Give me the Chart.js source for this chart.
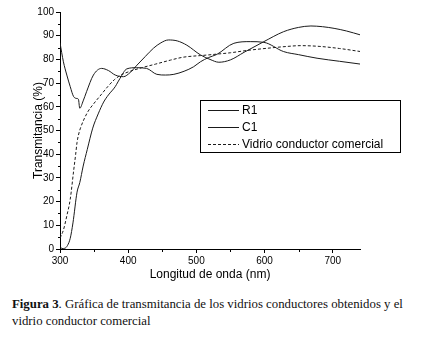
<!DOCTYPE html>
<html>
<head>
<meta charset="utf-8">
<script src="https://cdn.jsdelivr.net/npm/chart.js@4.4.1/dist/chart.umd.min.js"></script>
<style>
  body { margin: 0; background: #fff; width: 430px; height: 338px; overflow: hidden; }
  #wrap { position: absolute; left: 0; top: 0; width: 430px; height: 290px; }
  #caption {
    position: absolute; left: 12px; top: 296px;
    font-family: "Liberation Serif", "Times New Roman", serif;
    font-size: 12.8px; line-height: 17px; color: #111;
  }
</style>
</head>
<body>
<div id="wrap"><canvas id="chart" width="430" height="290"></canvas></div>
<div id="caption"><b>Figura 3</b>. Gráfica de transmitancia de los vidrios conductores obtenidos y el<br>vidrio conductor comercial</div>
<script>
// longitud de onda (nm) / transmitancia (%)
const r1Wave = [300, 305, 310, 315, 320, 325, 327, 329, 334, 339, 349, 361, 371, 381, 393, 403, 413, 425, 437, 448, 459, 472, 486, 506, 520, 533, 550, 570, 599, 628, 650, 668, 685, 702, 720, 741];
const r1Trans = [87, 79, 73.4, 68.5, 64.3, 63.5, 63.2, 59.4, 62.5, 66.4, 73.4, 76.2, 75.3, 73.4, 72.7, 74.5, 77.6, 81.2, 84.7, 87, 88.2, 87.8, 86, 81.9, 80, 78.8, 79.8, 83, 87.5, 91.7, 93.5, 94.1, 93.8, 93.1, 92, 90.3];

const c1Wave = [300, 303, 307, 311, 315, 319, 325, 329, 334, 340, 348, 356, 364, 371, 381, 385, 388, 398, 412, 427, 442, 455, 467, 482, 496, 506, 518, 530, 555, 579, 599, 628, 650, 677, 710, 741];
const c1Trans = [1, 0.2, 0.3, 1.5, 4.5, 11, 24, 28, 35, 42, 51, 57, 62, 65, 68.5, 70.5, 72, 76, 76.5, 76.2, 73.7, 73.4, 73.7, 75, 76.9, 79, 80.8, 82.1, 86.8, 87.5, 87.2, 83.3, 82, 80.5, 79.2, 78];

const vidrioWave = [300, 305, 310, 315, 320, 323, 325, 327, 330, 340, 350, 360, 370, 380, 390, 400, 420, 440, 462, 480, 496, 506, 529, 550, 575, 604, 630, 653, 680, 710, 741];
const vidrioTrans = [4.6, 8, 14, 21, 33, 40, 45, 48, 51, 57.5, 61.5, 65, 68.5, 71.5, 73.5, 74.7, 76.5, 78, 79.7, 80.9, 81.4, 81.6, 82.2, 82.8, 83.8, 84.7, 85.4, 85.8, 85.5, 84.6, 83.3];

const seriesNames = ['R1', 'C1', 'Vidrio conductor comercial'];
const yTicks = [0, 10, 20, 30, 40, 50, 60, 70, 80, 90, 100];
const xTicks = [300, 400, 500, 600, 700];

function toPoints(xs, ys) {
  return xs.map((x, i) => ({ x: x, y: ys[i] }));
}

const lineColor = '#1a1a1a';

// marcas menores y leyenda con recuadro
const extrasPlugin = {
  id: 'extras',
  afterDraw(chart) {
    const ctx = chart.ctx;
    const xs = chart.scales.x, ys = chart.scales.y;
    const area = chart.chartArea;
    ctx.save();
    ctx.strokeStyle = '#000';
    ctx.lineWidth = 1;
    ctx.beginPath();
    for (let v = 5; v < 100; v += 10) {
      const py = Math.round(ys.getPixelForValue(v)) + 0.5;
      ctx.moveTo(area.left - 2, py);
      ctx.lineTo(area.left, py);
    }
    for (let v = 350; v < 740; v += 100) {
      const px = Math.round(xs.getPixelForValue(v)) + 0.5;
      ctx.moveTo(px, area.bottom);
      ctx.lineTo(px, area.bottom + 3);
    }
    ctx.stroke();

    // leyenda
    const bx = 200.5, by = 100.5, bw = 200, bh = 52;
    ctx.fillStyle = '#fff';
    ctx.fillRect(bx, by, bw, bh);
    ctx.strokeRect(bx, by, bw, bh);
    ctx.font = '12px "Liberation Sans", Arial, sans-serif';
    ctx.textBaseline = 'middle';
    chart.data.datasets.forEach((ds, i) => {
      const ly = 110.5 + i * 17;
      ctx.strokeStyle = ds.borderColor;
      ctx.setLineDash(ds.borderDash || []);
      ctx.beginPath();
      ctx.moveTo(208, ly);
      ctx.lineTo(239, ly);
      ctx.stroke();
      ctx.setLineDash([]);
      ctx.fillStyle = '#000';
      ctx.fillText(ds.label, 242, ly + 0.5);
    });
    ctx.restore();
  }
};

new Chart(document.getElementById('chart'), {
  type: 'line',
  data: {
    datasets: [
      { label: seriesNames[0], data: toPoints(r1Wave, r1Trans), borderColor: lineColor, borderWidth: 1, pointRadius: 0, cubicInterpolationMode: 'monotone' },
      { label: seriesNames[1], data: toPoints(c1Wave, c1Trans), borderColor: lineColor, borderWidth: 1, pointRadius: 0, cubicInterpolationMode: 'monotone' },
      { label: seriesNames[2], data: toPoints(vidrioWave, vidrioTrans), borderColor: lineColor, borderWidth: 1, borderDash: [3, 2], pointRadius: 0, cubicInterpolationMode: 'monotone' }
    ]
  },
  options: {
    responsive: false,
    animation: false,
    layout: { padding: { left: 0, right: 70, top: 12, bottom: 0 } },
    plugins: { legend: { display: false }, tooltip: { enabled: false } },
    scales: {
      x: {
        type: 'linear', min: 300, max: 740,
        afterBuildTicks: s => { s.ticks = xTicks.map(v => ({ value: v })); },
        afterFit: s => { s.height = 41; },
        border: { display: true, color: '#000', width: 1 },
        grid: { drawOnChartArea: false, drawTicks: true, tickLength: 4, color: '#000' },
        ticks: { color: '#000', padding: 2, maxRotation: 0, font: { family: '"Liberation Sans", Arial, sans-serif', size: 10 } },
        title: { display: true, text: 'Longitud de onda (nm)', color: '#000', padding: { top: 0, bottom: 8 }, font: { family: '"Liberation Sans", Arial, sans-serif', size: 12 } }
      },
      y: {
        type: 'linear', min: 0, max: 100,
        afterBuildTicks: s => { s.ticks = yTicks.map(v => ({ value: v })); },
        afterFit: s => { s.width = 60; },
        border: { display: true, color: '#000', width: 1 },
        grid: { drawOnChartArea: false, drawTicks: true, tickLength: 4, color: '#000' },
        ticks: { color: '#000', padding: 2, font: { family: '"Liberation Sans", Arial, sans-serif', size: 10 } },
        title: { display: true, text: 'Transmitancia (%)', color: '#000', padding: { top: 31, bottom: 0 }, font: { family: '"Liberation Sans", Arial, sans-serif', size: 12 } }
      }
    }
  },
  plugins: [extrasPlugin]
});
</script>
</body>
</html>
